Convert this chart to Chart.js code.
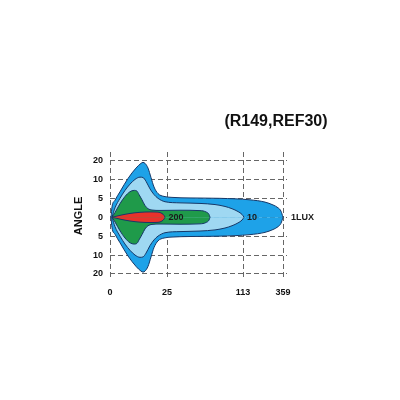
<!DOCTYPE html>
<html>
<head>
<meta charset="utf-8">
<script src="https://cdn.jsdelivr.net/npm/chart.js@4"></script>
<style>
  html, body { margin: 0; padding: 0; background: #fff; }
  #wrap { width: 400px; height: 400px; }
</style>
</head>
<body>
<div id="wrap"><canvas id="myChart"></canvas></div>
<script>
// axis ticks (x positions are on the diagram's own distance scale)
var xTickPos = [0, 57, 133, 173];
var xTickLabels = ["0", "25", "113", "359"];
var yTickPos = [3, 2, 1, 0, -1, -2, -3];
var yTickLabels = ["20", "10", "5", "0", "5", "10", "20"];

// iso-lux contours, upper half (mirrored for the lower half)
var outerX = [1, 2, 5, 10, 18, 26, 31, 33, 35, 38, 41, 44, 48, 54, 62, 80, 110, 140, 155, 163, 168, 171, 173];
var outerY = [0, 0.55, 0.9, 1.35, 2.05, 2.6, 2.85, 2.9, 2.85, 2.6, 2.1, 1.6, 1.25, 1.1, 1.05, 1.02, 1.0, 0.92, 0.8, 0.65, 0.5, 0.32, 0];
var lightX = [2, 5, 10, 15, 20, 25, 30, 33, 36, 40, 44, 48, 55, 70, 90, 105, 115, 122, 128, 132, 134];
var lightY = [0, 0.5, 1.0, 1.42, 1.75, 2.0, 2.12, 2.1, 1.9, 1.5, 1.2, 1.0, 0.82, 0.76, 0.73, 0.67, 0.57, 0.45, 0.3, 0.15, 0];
var greenX = [2, 5, 10, 15, 20, 24, 27, 29, 32, 35, 38, 42, 50, 70, 90, 96, 99, 100];
var greenY = [0, 0.25, 0.72, 1.1, 1.35, 1.42, 1.38, 1.2, 0.92, 0.62, 0.45, 0.38, 0.36, 0.37, 0.35, 0.28, 0.15, 0];
var redX = [2, 10, 20, 30, 40, 48, 52, 54, 55];
var redY = [0, 0.1, 0.2, 0.26, 0.28, 0.27, 0.2, 0.1, 0];

// value labels inside the plot
var luxLabels = ["200", "10", "1LUX"];
var luxLabelX = [66, 142, 181];

var font = "'Liberation Sans', Arial, sans-serif";

function half(xs, ys, sign) {
  return xs.map(function (x, i) { return { x: x, y: sign * ys[i] }; });
}

var contours = [
  { x: outerX, y: outerY, color: "#1ea2e8", order: 4 },
  { x: lightX, y: lightY, color: "#9fd8f2", order: 3 },
  { x: greenX, y: greenY, color: "#1f9a4a", order: 2 },
  { x: redX, y: redY, color: "#e8322b", order: 1 },
];

var datasets = [];
contours.forEach(function (c) {
  [1, -1].forEach(function (s) {
    datasets.push({
      data: half(c.x, c.y, s),
      borderColor: "#163868",
      borderWidth: 1,
      backgroundColor: c.color,
      fill: "origin",
      pointRadius: 0,
      cubicInterpolationMode: "monotone",
      order: c.order,
    });
  });
});

var textPlugin = {
  id: "texts",
  afterDatasetsDraw: function (chart) {
    var ctx = chart.ctx;
    var xs = chart.scales.x, ys = chart.scales.y;
    ctx.save();
    ctx.fillStyle = "#1a1a1a";
    ctx.font = "bold 9px " + font;
    ctx.textBaseline = "middle";
    luxLabels.forEach(function (t, i) {
      ctx.textAlign = i === 2 ? "left" : "center";
      ctx.fillText(t, xs.getPixelForValue(luxLabelX[i]), ys.getPixelForValue(0));
    });
    ctx.fillStyle = "#111";
    ctx.font = "bold 16px " + font;
    ctx.textAlign = "center";
    ctx.fillText("(R149,REF30)", 276, 122);
    ctx.restore();
  },
};

var ctx = document.getElementById("myChart").getContext("2d");
var myChart = new Chart(ctx, {
  type: "line",
  data: { datasets: datasets },
  plugins: [textPlugin],
  options: {
    responsive: true,
    maintainAspectRatio: false,
    animation: false,
    layout: { padding: { left: 72, top: 152, right: 113, bottom: 100 } },
    plugins: { legend: { display: false }, tooltip: { enabled: false } },
    scales: {
      x: {
        type: "linear",
        min: 0,
        max: 177,
        afterBuildTicks: function (scale) {
          scale.ticks = xTickPos.map(function (v) { return { value: v }; });
        },
        afterFit: function (scale) { scale.height = 20; },
        ticks: {
          padding: 7,
          color: "#111",
          font: { family: font, size: 9, weight: "bold" },
          maxRotation: 0,
          callback: function (v) { return xTickLabels[xTickPos.indexOf(v)]; },
        },
        grid: { color: "#666", drawTicks: false, lineWidth: 1 },
        border: { display: false, dash: [5, 3] },
      },
      y: {
        type: "linear",
        min: -3.32,
        max: 3.45,
        afterBuildTicks: function (scale) {
          scale.ticks = yTickPos.map(function (v) { return { value: v }; });
        },
        afterFit: function (scale) { scale.width = 38; },
        ticks: {
          padding: 7,
          color: "#111",
          font: { family: font, size: 9, weight: "bold" },
          callback: function (v) { return yTickLabels[yTickPos.indexOf(v)]; },
        },
        title: {
          display: true,
          text: "ANGLE",
          color: "#111",
          font: { family: font, size: 11, weight: "bold" },
          padding: { top: 0, bottom: 0 },
        },
        grid: { color: "#666", drawTicks: false, lineWidth: 1 },
        border: { display: false, dash: [5, 3] },
      },
    },
  },
});
</script>
</body>
</html>
